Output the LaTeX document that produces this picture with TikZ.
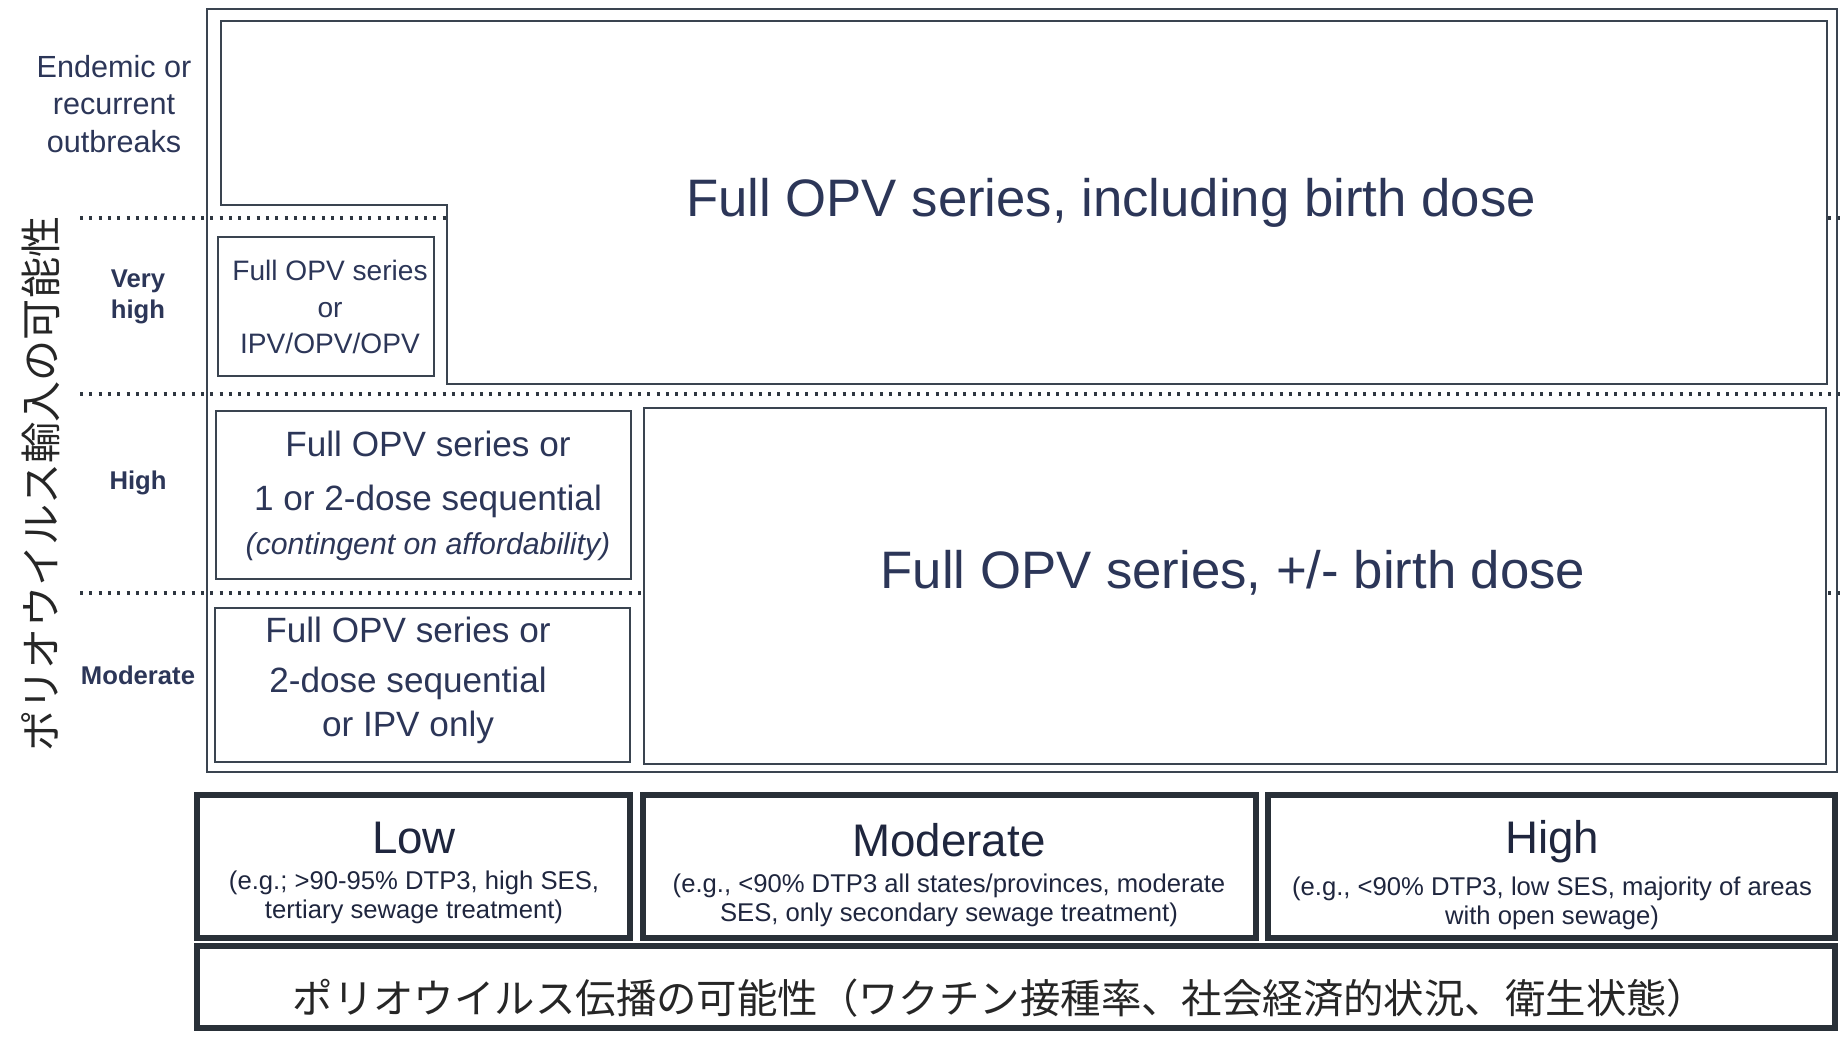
\documentclass[tikz,border=0pt]{standalone}
\usepackage{fontspec}
\setmainfont{Liberation Sans}
\newfontfamily\jpfont{Noto Sans CJK JP}
\definecolor{ink}{RGB}{44,54,88}
\definecolor{rulecol}{RGB}{58,68,80}

\begin{document}
\begin{tikzpicture}[x=0.1mm,y=-0.1mm,
  framebox/.style={draw=rulecol,line width=0.6pt},
  cellbox/.style={draw=rulecol,line width=0.8pt,fill=white},
  heavybox/.style={draw=rulecol!70!black,line width=1.6pt},
  dotline/.style={draw=rulecol!80!black,line width=1pt,dash pattern=on 0.3mm off 0.63mm},
  rowlab/.style={text=ink,align=center,font=\fontsize{8.7}{10.7}\selectfont},
  rowbold/.style={text=ink,align=center,font=\fontsize{7.3}{8.8}\selectfont\bfseries},
  celltext/.style={text=ink,align=center,font=\fontsize{10}{14.5}\selectfont},
  bigtext/.style={text=ink,font=\fontsize{15}{18}\selectfont},
  levtitle/.style={text=ink!70!black,font=\fontsize{13}{15}\selectfont},
  levnote/.style={text=ink!70!black,align=center,font=\fontsize{7.3}{8.3}\selectfont},
  jptext/.style={text=black!85,font=\jpfont\fontsize{11.5}{13}\selectfont}]
\useasboundingbox[fill=white] (0,0) rectangle (1840,1038);

% dotted row separators
\draw[dotline] (80,218) -- (1840,218);
\draw[dotline] (80,394) -- (1840,394);
\draw[dotline] (80,593) -- (1840,593);

% outer frame
\draw[framebox] (207,9) rectangle (1837,772);

% cells
\filldraw[cellbox] (221,21) -- (1827,21) -- (1827,384) -- (447,384) -- (447,205) -- (221,205) -- cycle;
\filldraw[cellbox] (218,237) rectangle (434,376);
\filldraw[cellbox] (216,411) rectangle (631,579);
\filldraw[cellbox] (215,608) rectangle (630,762);
\filldraw[cellbox] (644,408) rectangle (1826,764);

\node[bigtext] (fullbd) at (1111,203) {Full OPV series, including birth dose};
\node[bigtext] (pmbd) at (1233,573) {Full OPV series, +/- birth dose};
\node[celltext,font=\fontsize{8}{10.5}\selectfont] (vhcell) at (330,307) {Full OPV series\\or\\IPV/OPV/OPV};
\node[celltext,font=\fontsize{10}{15.3}\selectfont] (hicell) at (428,496) {Full OPV series or\\1 or 2-dose sequential\\[-2.8pt]{\fontsize{8.6}{10}\selectfont\itshape(contingent on affordability)}};
\node[celltext] (modcell) at (408,680) {Full OPV series or\\2-dose sequential\\[-2.2pt]or IPV only};

% row labels
\node[rowlab] (endemic) at (114,104) {Endemic or\\recurrent\\outbreaks};
\node[rowbold] (veryhigh) at (138,297) {Very\\high};
\node[rowbold] (high) at (138,483) {High};
\node[rowbold] (moderate) at (138,675) {Moderate};
\node[jptext,font=\jpfont\fontsize{11.7}{13}\selectfont,rotate=90] (importax) at (41,484) {ポリオウイルス輸入の可能性};

% transmission levels
\draw[heavybox] (197,795) rectangle (630,938);
\draw[heavybox] (643,795) rectangle (1256,938);
\draw[heavybox] (1268,795) rectangle (1835,938);
\draw[heavybox] (197,946) rectangle (1835,1028);

\node[levtitle] (lowt) at (414,838) {Low};
\node[levnote] (lown) at (414,897) {(e.g.; >90-95\% DTP3, high SES,\\tertiary sewage treatment)};
\node[levtitle] (modt) at (949,840) {Moderate};
\node[levnote] (modn) at (949,900) {(e.g., <90\% DTP3 all states/provinces, moderate\\SES, only secondary sewage treatment)};
\node[levtitle] (hight) at (1552,842) {High};
\node[levnote] (highn) at (1552,903) {(e.g., <90\% DTP3, low SES, majority of areas\\with open sewage)};
\node[jptext] (transax) at (1000,998) {ポリオウイルス伝播の可能性（ワクチン接種率、社会経済的状況、衛生状態）};
\end{tikzpicture}
\end{document}
